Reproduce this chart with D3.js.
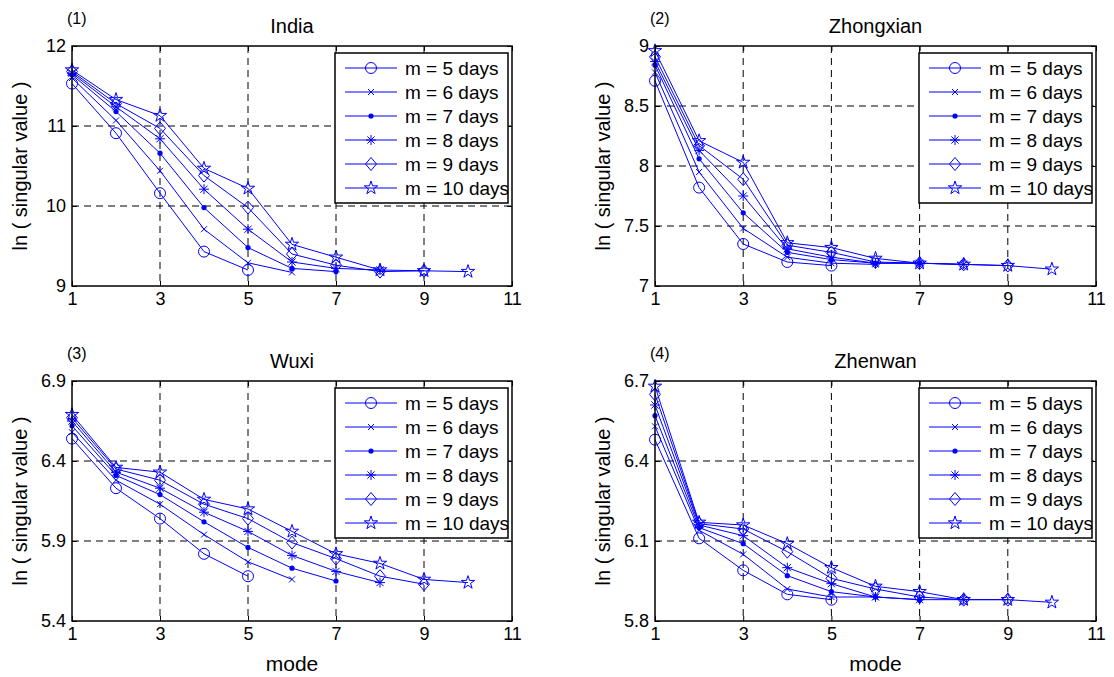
<!DOCTYPE html>
<html>
<head>
<meta charset="utf-8">
<script src="https://cdn.jsdelivr.net/npm/d3@7"></script>
<style>
body{margin:0;background:#fff;}
svg{display:block;font-family:"Liberation Sans",Arial,sans-serif;}
</style>
</head>
<body>
<svg></svg>
<script>
const width = 1114;
const height = 677;
const blue = '#0000ff';

// data
const stations = ['India', 'Zhongxian', 'Wuxi', 'Zhenwan'];
const panelTags = ['(1)', '(2)', '(3)', '(4)'];
const windows = [5, 6, 7, 8, 9, 10];
const xTicks = [1, 3, 5, 7, 9, 11];

const india = [
	[11.53, 10.91, 10.16, 9.43, 9.20],
	[11.60, 11.07, 10.44, 9.71, 9.29, 9.17],
	[11.64, 11.18, 10.66, 9.98, 9.48, 9.22, 9.18],
	[11.66, 11.24, 10.84, 10.21, 9.71, 9.30, 9.22, 9.20],
	[11.68, 11.28, 10.97, 10.38, 9.98, 9.40, 9.26, 9.18, 9.19],
	[11.70, 11.33, 11.13, 10.47, 10.22, 9.52, 9.36, 9.20, 9.19, 9.18]
];
const zhongxian = [
	[8.71, 7.82, 7.35, 7.20, 7.17],
	[8.78, 7.95, 7.48, 7.24, 7.19, 7.18],
	[8.84, 8.06, 7.61, 7.28, 7.22, 7.19, 7.19],
	[8.87, 8.13, 7.75, 7.31, 7.24, 7.19, 7.19, 7.18],
	[8.91, 8.17, 7.89, 7.34, 7.28, 7.20, 7.19, 7.18, 7.17],
	[8.96, 8.21, 8.03, 7.36, 7.32, 7.23, 7.19, 7.18, 7.17, 7.14]
];
const wuxi = [
	[6.54, 6.23, 6.04, 5.82, 5.68],
	[6.58, 6.28, 6.13, 5.94, 5.77, 5.66],
	[6.62, 6.31, 6.19, 6.02, 5.86, 5.73, 5.65],
	[6.65, 6.33, 6.23, 6.08, 5.96, 5.81, 5.71, 5.64],
	[6.67, 6.35, 6.28, 6.13, 6.04, 5.89, 5.79, 5.68, 5.63],
	[6.69, 6.36, 6.33, 6.16, 6.10, 5.96, 5.82, 5.76, 5.66, 5.64]
];
const zhenwan = [
	[6.48, 6.11, 5.99, 5.90, 5.88],
	[6.53, 6.14, 6.05, 5.92, 5.89, 5.89],
	[6.57, 6.15, 6.09, 5.97, 5.91, 5.89, 5.88],
	[6.61, 6.16, 6.12, 6.00, 5.94, 5.89, 5.88, 5.88],
	[6.65, 6.165, 6.145, 6.06, 5.96, 5.92, 5.89, 5.88, 5.88],
	[6.68, 6.17, 6.16, 6.09, 6.00, 5.93, 5.91, 5.88, 5.88, 5.87]
];
const seriesByStation = [india, zhongxian, wuxi, zhenwan];

const yDomains = [[9, 12], [7, 9], [5.4, 6.9], [5.8, 6.7]];
const yTicks = [
	[9, 10, 11, 12],
	[7, 7.5, 8, 8.5, 9],
	[5.4, 5.9, 6.4, 6.9],
	[5.8, 6.1, 6.4, 6.7]
];

// panel boxes in pixels
const boxes = [
	{l: 72, t: 46, r: 512, b: 286},
	{l: 655, t: 46, r: 1096, b: 286},
	{l: 72, t: 381, r: 512, b: 621},
	{l: 655, t: 381, r: 1096, b: 621}
];
const markers = ['circle', 'x', 'dot', 'asterisk', 'diamond', 'star'];

var svg;

function starPath(r){
	var p = [];
	for(var i=0; i<10; i++){
		var a = -Math.PI/2 + i*Math.PI/5;
		var rr = i%2 ? r*0.382 : r;
		p.push([rr*Math.cos(a), rr*Math.sin(a)]);
	}
	return 'M' + p.join('L') + 'Z';
}

// draw one marker of the given type at (x,y)
function drawMarker(g, type, x, y){
	var m = g.append('g').attr('transform', 'translate(' + x + ',' + y + ')');
	switch(type){
		case 'circle':
			m.append('circle').attr('r', 5.5).attr('fill', 'none').attr('stroke', blue);
			break;
		case 'x':
			m.append('path').attr('d', 'M-3,-3L3,3M-3,3L3,-3').attr('stroke', blue);
			break;
		case 'dot':
			m.append('circle').attr('r', 2.6).attr('fill', blue);
			break;
		case 'asterisk':
			m.append('path').attr('d', 'M-5,0L5,0M0,-5L0,5M-3.6,-3.6L3.6,3.6M-3.6,3.6L3.6,-3.6').attr('stroke', blue);
			break;
		case 'diamond':
			m.append('path').attr('d', 'M0,-6.5L5.5,0L0,6.5L-5.5,0Z').attr('fill', 'none').attr('stroke', blue);
			break;
		case 'star':
			m.append('path').attr('d', starPath(7)).attr('fill', 'none').attr('stroke', blue);
			break;
	}
}

function drawPanel(k){
	var box = boxes[k];
	var g = svg.append('g');
	var xScale = d3.scaleLinear().domain([1, 11]).range([box.l, box.r]);
	var yScale = d3.scaleLinear().domain(yDomains[k]).range([box.b, box.t]);

	// dashed grid
	g.selectAll('line.gx').data(xTicks.slice(1, -1)).enter().append('line')
	.attr('x1', d => xScale(d)).attr('x2', d => xScale(d))
	.attr('y1', box.t).attr('y2', box.b)
	.attr('stroke', '#000').attr('stroke-dasharray', '7,5');
	g.selectAll('line.gy').data(yTicks[k].slice(1, -1)).enter().append('line')
	.attr('x1', box.l).attr('x2', box.r)
	.attr('y1', d => yScale(d)).attr('y2', d => yScale(d))
	.attr('stroke', '#000').attr('stroke-dasharray', '7,5');

	// axes with inward ticks
	var fmt = d3.format('');
	var ax = [
		[d3.axisBottom(xScale).tickValues(xTicks).tickSizeInner(-5), 'translate(0,' + box.b + ')', true],
		[d3.axisTop(xScale).tickValues(xTicks).tickSizeInner(-5), 'translate(0,' + box.t + ')', false],
		[d3.axisLeft(yScale).tickValues(yTicks[k]).tickSizeInner(-5), 'translate(' + box.l + ',0)', true],
		[d3.axisRight(yScale).tickValues(yTicks[k]).tickSizeInner(-5), 'translate(' + box.r + ',0)', false]
	];
	ax.forEach(function(a){
		var s = g.append('g').attr('transform', a[1])
		.call(a[0].tickSizeOuter(0).tickPadding(6).tickFormat(a[2] ? fmt : ''));
		s.select('.domain').remove();
		s.selectAll('.tick line').attr('stroke', '#000');
		s.selectAll('.tick text').attr('fill', '#000').style('font-size', '18px');
	});

	// lines and markers
	var series = seriesByStation[k];
	var line = d3.line().x((d, i) => xScale(i + 1)).y(d => yScale(d));
	series.forEach(function(vals, j){
		g.append('path').attr('d', line(vals))
		.attr('fill', 'none').attr('stroke', blue).attr('stroke-width', 1);
		vals.forEach(function(v, i){
			drawMarker(g, markers[j], xScale(i + 1), yScale(v));
		});
	});

	// frame
	g.append('rect').attr('x', box.l).attr('y', box.t)
	.attr('width', box.r - box.l).attr('height', box.b - box.t)
	.attr('fill', 'none').attr('stroke', '#000').attr('stroke-width', 1.5);

	// legend
	var lg = g.append('g').attr('transform', 'translate(' + (box.r - 177) + ',' + (box.t + 7) + ')');
	lg.append('rect').attr('width', 173).attr('height', 150)
	.attr('fill', '#fff').attr('stroke', '#000').attr('stroke-width', 1.5);
	windows.forEach(function(w, j){
		var y = 15 + j*24;
		lg.append('line').attr('x1', 10).attr('x2', 62).attr('y1', y).attr('y2', y).attr('stroke', blue);
		drawMarker(lg, markers[j], 36, y);
		lg.append('text').attr('x', 70).attr('y', y).attr('dy', '0.36em')
		.style('font-size', '19px').text('m = ' + w + ' days');
	});

	// titles and labels
	g.append('text').attr('x', (box.l + box.r)/2).attr('y', box.t - 13)
	.attr('text-anchor', 'middle').style('font-size', '20px').text(stations[k]);
	g.append('text').attr('x', box.l - 5).attr('y', box.t - 22)
	.style('font-size', '16px').text(panelTags[k]);
	g.append('text')
	.attr('transform', 'translate(' + (box.l - 45) + ',' + ((box.t + box.b)/2) + ') rotate(-90)')
	.attr('text-anchor', 'middle').style('font-size', '20px').text('ln ( singular value )');
	if(k >= 2){
		g.append('text').attr('x', (box.l + box.r)/2).attr('y', box.b + 50)
		.attr('text-anchor', 'middle').style('font-size', '21px').text('mode');
	}
}

function init(){
	svg = d3.select('svg').attr('width', width).attr('height', height);
	svg.append('rect').attr('width', width).attr('height', height).attr('fill', '#fff');
	for(var k=0; k<4; k++){
		drawPanel(k);
	}
}

init();
</script>
</body>
</html>
